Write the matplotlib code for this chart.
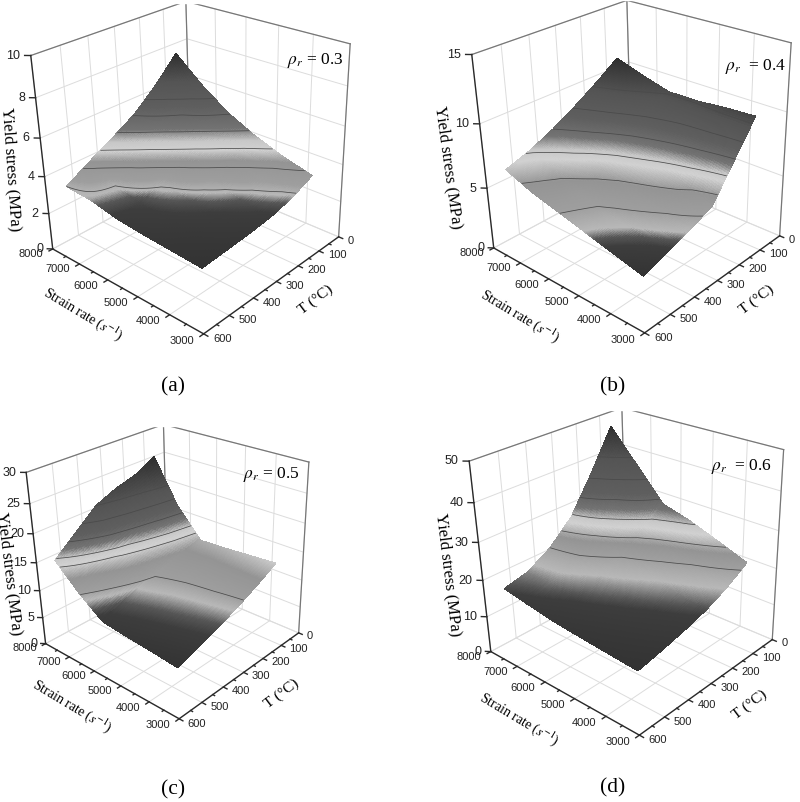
import matplotlib

matplotlib.use("Agg")
import matplotlib.pyplot as plt
import numpy as np
from matplotlib.colors import LinearSegmentedColormap
from matplotlib.patches import Rectangle

plt.rcParams["font.family"] = ["Liberation Sans", "DejaVu Sans"]
plt.rcParams["mathtext.fontset"] = "stix"

SERIF = ["Liberation Serif", "DejaVu Serif"]

# tick values of the box
temps = [0, 100, 200, 300, 400, 500, 600]
rates = [3000, 4000, 5000, 6000, 7000, 8000]

# measured grid of the surface
surface_temps = [150, 240, 330, 420, 510, 600]
surface_rates = [3000, 3840, 4680, 5520, 6360, 7200]

# rows follow surface_rates, columns follow surface_temps
stress_a = [
    [4.45, 3.95, 3.65, 3.5, 3.4, 3.3],
    [4.85, 4.25, 3.85, 3.65, 3.5, 3.4],
    [5.4, 4.75, 4.2, 3.85, 3.65, 3.5],
    [6.1, 5.4, 4.75, 4.1, 3.75, 3.65],
    [7.1, 6.1, 5.4, 4.75, 4.05, 3.95],
    [8.3, 7.1, 6.1, 5.4, 4.75, 4.05],
]
stress_b = [
    [11.0, 8.6, 6.2, 5.5, 4.9, 4.3],
    [10.9, 9.0, 7.1, 6.0, 5.3, 4.85],
    [10.7, 9.3, 7.8, 6.5, 5.7, 5.4],
    [10.7, 9.7, 8.4, 7.1, 6.2, 5.95],
    [11.3, 10.3, 9.1, 8.0, 7.0, 6.5],
    [12.0, 10.8, 9.7, 8.7, 7.9, 7.3],
]
stress_c = [
    [16.0, 14.2, 12.6, 11.2, 10.0, 8.7],
    [15.7, 14.2, 12.9, 11.6, 10.4, 9.2],
    [15.4, 14.2, 13.1, 12.0, 10.8, 9.6],
    [15.2, 14.4, 13.4, 12.5, 11.3, 10.1],
    [20.0, 19.2, 18.0, 16.6, 14.8, 13.2],
    [27.3, 25.5, 24.5, 23.0, 20.0, 17.0],
]
stress_d = [
    [26.5, 23.2, 20.7, 19.0, 17.6, 16.4],
    [29.3, 25.0, 22.0, 20.0, 18.4, 17.0],
    [32.0, 27.0, 23.6, 21.2, 19.2, 17.6],
    [34.0, 29.5, 25.5, 22.6, 20.3, 18.3],
    [42.0, 34.0, 28.5, 24.6, 21.6, 19.4],
    [50.0, 40.0, 31.0, 25.5, 22.0, 20.6],
]

stress = [stress_a, stress_b, stress_c, stress_d]
z_limits = [10, 15, 30, 50]
z_ticks = [
    [0, 2, 4, 6, 8, 10],
    [0, 5, 10, 15],
    [0, 5, 10, 15, 20, 25, 30],
    [0, 10, 20, 30, 40, 50],
]
contour_levels = [
    [4.05, 4.55, 5.05, 5.55, 6.05, 6.6],
    [5.9, 6.8, 7.8, 8.7, 9.6, 10.6],
    [13, 16.2, 17.2, 19, 21, 23],
    [25.5, 28.5, 31.5, 35, 39, 43.5],
]
rho_labels = [r"$\rho_r$ = 0.3", r"$\rho_r$  = 0.4", r"$\rho_r$ = 0.5", r"$\rho_r$  = 0.6"]
panel_labels = ["(a)", "(b)", "(c)", "(d)"]

# grey ramp: dark, light, mid, light, dark
band_greys = [0.20, 0.24, 0.34, 0.72, 0.62, 0.58, 0.82, 0.78, 0.45, 0.37, 0.33, 0.18]
# stress value where each grey sits, per panel
band_stress = [
    [3.3, 3.7, 3.85, 3.98, 4.2, 4.7, 5.0, 5.25, 5.6, 6.3, 7.2, 8.3],
    [4.3, 5.0, 5.2, 5.4, 5.9, 6.7, 7.5, 7.9, 8.4, 9.2, 10.4, 12.0],
    [8.7, 10.6, 11.3, 12.2, 13.0, 14.6, 16.2, 17.0, 18.0, 19.5, 22.5, 27.3],
    [16.4, 20.2, 21, 23, 25.7, 27.5, 30, 31.2, 33, 36, 43, 50],
]

# box centre and scale in pixels; the axes are oversized so nothing is clipped
boxes = [
    (186.5, 159, 322),
    (627.5, 158, 322),
    (164, 564, 285),
    (622.5, 563, 317),
]
OVERSIZE = 1.7
# white strip that cuts the box off: left, top, right, bottom in pixels
top_strips = [(0, 0, 400, 3), (400, 0, 800, 0), (0, 402, 400, 426), (400, 402, 800, 410)]
rho_xy = [(287, 61), (725, 66), (243, 474), (711, 466)]
letter_xy = [(173, 387), (613, 387), (173, 790), (613, 788)]
ylabel_xy = [(11, 169), (448, 167), (9, 574), (448, 575)]
ylabel_rot = [-86, -82, -83, -83]
xlabel_xy = [(83, 314), (520, 316), (72, 706), (519, 719)]
tlabel_xy = [(316, 300), (757, 300), (282, 694), (750, 705)]


def _refine(xs, ys, zs, n=20):
    # subdivide each facet so the grey ramp looks continuous
    xi = np.linspace(0, len(xs) - 1, (len(xs) - 1) * n + 1)
    yi = np.linspace(0, len(ys) - 1, (len(ys) - 1) * n + 1)
    fine_x = np.interp(xi, np.arange(len(xs)), xs)
    fine_y = np.interp(yi, np.arange(len(ys)), ys)
    rows = np.array([np.interp(yi, np.arange(len(ys)), col) for col in np.asarray(zs).T]).T
    fine_z = np.array([np.interp(xi, np.arange(len(xs)), row) for row in rows])
    return fine_x, fine_y, fine_z


def _band_cmap(levels):
    lo, hi = levels[0], levels[-1]
    stops = [((lv - lo) / (hi - lo), (g, g, g)) for lv, g in zip(levels, band_greys)]
    return LinearSegmentedColormap.from_list("bands", stops, N=1024), plt.Normalize(lo, hi)


def _draw_box(ax, zmax, zticks):
    r0, r1, t0, t1 = rates[0], rates[-1], temps[0], temps[-1]
    grid = {"color": "#dcdcdc", "lw": 0.7, "zorder": 1}
    edge = {"color": "#777777", "lw": 0.9, "zorder": 1}
    axis = {"color": "#2a2a2a", "lw": 1.0, "zorder": 4}

    # floor and the two back walls
    for r in rates:
        ax.plot([r, r], [t0, t1], [0, 0], **grid)
        ax.plot([r, r], [t0, t0], [0, zmax], **grid)
    for t in temps:
        ax.plot([r0, r1], [t, t], [0, 0], **grid)
        ax.plot([r1, r1], [t, t], [0, zmax], **grid)
    for z in zticks:
        ax.plot([r0, r1], [t0, t0], [z, z], **grid)
        ax.plot([r1, r1], [t0, t1], [z, z], **grid)

    # wall outlines
    ax.plot([r1, r1, r0], [t1, t0, t0], [zmax, zmax, zmax], **edge)
    ax.plot([r1, r1], [t0, t0], [0, zmax], **edge)
    ax.plot([r0, r0], [t0, t0], [0, zmax], **edge)

    # the three drawn axes
    ax.plot([r1, r0], [t1, t1], [0, 0], **axis)
    ax.plot([r0, r0], [t1, t0], [0, 0], **axis)
    ax.plot([r1, r1], [t1, t1], [0, zmax], **axis)

    for r in rates:
        ax.plot([r, r], [t1, t1 + 14], [0, 0], **axis)
        ax.text(r, t1 + 36, 0, f"{r}", fontsize=8, rotation=28, ha="right", va="center",
                rotation_mode="anchor", color="#222222", zorder=5)
    for r in rates[:-1]:
        ax.plot([r + 500, r + 500], [t1, t1 + 7], [0, 0], **axis)
    for t in temps:
        ax.plot([r0, r0 - 120], [t, t], [0, 0], **axis)
        ax.text(r0 - 270, t, 0, f"{t}", fontsize=8, rotation=-28, ha="left", va="center",
                rotation_mode="anchor", color="#222222", zorder=5)
    for t in temps[:-1]:
        ax.plot([r0, r0 - 60], [t + 50, t + 50], [0, 0], **axis)
    for z in zticks:
        ax.plot([r1, r1 + 110], [t1, t1 + 10], [z, z], **axis)
        ax.text(r1 + 170, t1 + 20, z, f"{z}", fontsize=9, rotation=8, ha="right", va="center",
                rotation_mode="anchor", color="#222222", zorder=5)


def _plot_panel(fig, idx):
    cx, cy, scale = boxes[idx]
    size = scale * OVERSIZE
    ax = fig.add_axes(
        [(cx - size / 2) / 800, 1 - (cy + size / 2) / 802, size / 800, size / 802],
        projection="3d",
        computed_zorder=False,
    )
    ax.set_proj_type("persp", focal_length=0.3)
    ax.set_box_aspect((4, 4, 4.05), zoom=1.12 / OVERSIZE)
    ax.view_init(elev=27, azim=133.3, roll=1.5)
    ax.set_axis_off()
    ax.patch.set_alpha(0)

    zs = np.asarray(stress[idx], dtype=float)
    fine_t, fine_r, fine_z = _refine(surface_temps, surface_rates, zs)
    grid_r, grid_t = np.meshgrid(fine_r, fine_t, indexing="ij")
    cmap, norm = _band_cmap(band_stress[idx])
    _draw_box(ax, z_limits[idx], z_ticks[idx])
    ax.plot_surface(
        grid_r, grid_t, fine_z,
        facecolors=cmap(norm(fine_z)),
        rstride=1, cstride=1, linewidth=0, antialiased=False, shade=False, zorder=2,
    )
    ax.contour(grid_r, grid_t, fine_z, levels=contour_levels[idx], colors="#4a4a4a",
               linewidths=0.55, zorder=3)

    ax.set_xlim(3000, 8000)
    ax.set_ylim(0, 600)
    ax.set_zlim(0, z_limits[idx])


def main():
    fig = plt.figure(figsize=(8.0, 8.02), dpi=100)
    for idx in range(4):
        _plot_panel(fig, idx)

    for x0, y0, x1, y1 in top_strips:
        fig.add_artist(Rectangle((x0 / 800, 1 - y1 / 802), (x1 - x0) / 800, (y1 - y0) / 802,
                                 transform=fig.transFigure, color="white", zorder=5))

    for idx in range(4):
        x, y = rho_xy[idx]
        fig.text(x / 800, 1 - y / 802, rho_labels[idx], fontsize=12.5,
                 family=SERIF, va="center", zorder=6)
        x, y = letter_xy[idx]
        fig.text(x / 800, 1 - y / 802, panel_labels[idx], fontsize=15.5, family=SERIF,
                 ha="center", va="center", zorder=6)
        x, y = ylabel_xy[idx]
        fig.text(x / 800, 1 - y / 802, "Yield stress (MPa)", fontsize=12, family=SERIF,
                 rotation=ylabel_rot[idx], ha="center", va="center", zorder=6)
        x, y = xlabel_xy[idx]
        fig.text(x / 800, 1 - y / 802, r"Strain rate ($s^{-1}$)", fontsize=10, family=SERIF,
                 rotation=-31, ha="center", va="center", zorder=6)
        x, y = tlabel_xy[idx]
        fig.text(x / 800, 1 - y / 802, "T (\u00b0C)", fontsize=11, family=SERIF,
                 rotation=37, ha="center", va="center", zorder=6)

    fig.savefig("out.png", dpi=100)
    plt.close(fig)


if __name__ == "__main__":
    main()
